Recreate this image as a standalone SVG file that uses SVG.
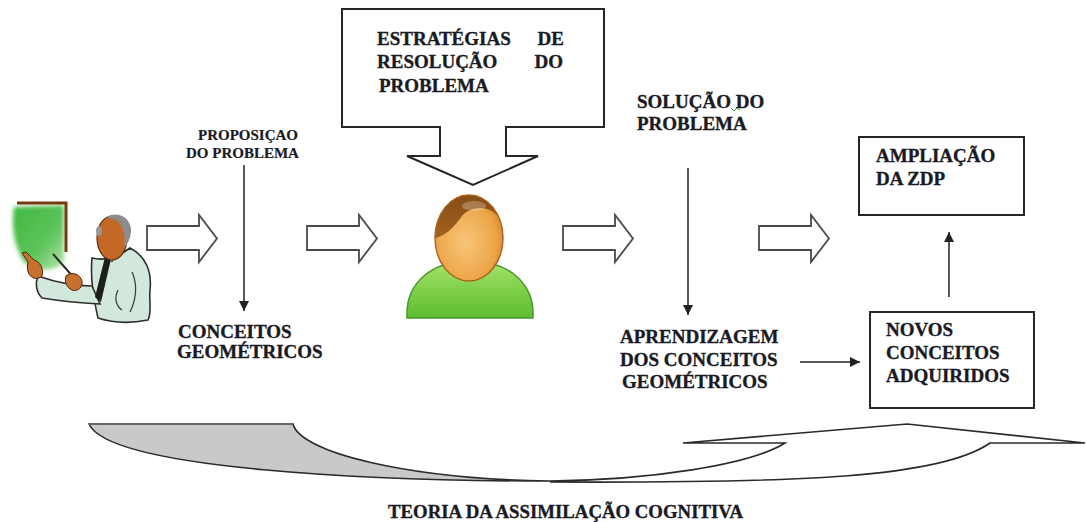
<svg xmlns="http://www.w3.org/2000/svg" width="1086" height="522" viewBox="0 0 1086 522">
  <style>
    .lbl { font-family: "Liberation Serif", "Times New Roman", serif; font-weight: bold; font-size: 19px; fill: #1a1a24; stroke: #1a1a24; stroke-width: 0.35; }
    .small { font-size: 15px; stroke-width: 0.2; }
    .box { fill: #ffffff; stroke: #262626; stroke-width: 2; }
    .block { fill: #ffffff; stroke: #4a4a4a; stroke-width: 1.8; stroke-linejoin: miter; }
    .conn { stroke: #222222; stroke-width: 1.5; fill: none; }
    .swirl { stroke: #2a2a2a; stroke-width: 1.6; }
  </style>
  <defs>
    <marker id="tri" viewBox="0 0 10 10" refX="10" refY="5" markerWidth="10" markerHeight="10" markerUnits="userSpaceOnUse" orient="auto">
      <path d="M0,0 L10,5 L0,10 Z" fill="#222222"/>
    </marker>
    <path id="blockArrow" d="M0,11 H52 V0 L70,23.5 L52,47 V35 H0 Z"/>
    <radialGradient id="face" cx="0.45" cy="0.55" r="0.6">
      <stop offset="0" stop-color="#f9c67a"/>
      <stop offset="0.75" stop-color="#eca548"/>
      <stop offset="1" stop-color="#d8862c"/>
    </radialGradient>
    <linearGradient id="torso" x1="0" y1="0" x2="0" y2="1">
      <stop offset="0" stop-color="#a6e46c"/>
      <stop offset="0.5" stop-color="#7fd04a"/>
      <stop offset="1" stop-color="#5cbc2e"/>
    </linearGradient>
    <linearGradient id="hair" x1="0" y1="0" x2="0" y2="1">
      <stop offset="0" stop-color="#7a4414"/>
      <stop offset="1" stop-color="#a8641f"/>
    </linearGradient>
    <linearGradient id="board" x1="0" y1="0" x2="1" y2="1">
      <stop offset="0" stop-color="#3fb83f"/>
      <stop offset="0.6" stop-color="#5cc45a"/>
      <stop offset="1" stop-color="#b6e6b0"/>
    </linearGradient>
    <clipPath id="headClip">
      <ellipse cx="469" cy="238" rx="34" ry="43"/>
    </clipPath>
    <filter id="soft" x="-20%" y="-20%" width="140%" height="140%">
      <feGaussianBlur stdDeviation="2.2"/>
    </filter>
  </defs>

  <rect width="1086" height="522" fill="#ffffff"/>

  <!-- teacher at the board -->
  <g id="teacher">
    <path d="M14,207 L64,205 L64,262 C55,272 38,272 24,262 C14,246 11,226 14,207 Z" fill="url(#board)" filter="url(#soft)"/>
    <path d="M17,203 H66 V252" fill="none" stroke="#7a3a10" stroke-width="3"/>
    <!-- jacket -->
    <path d="M92,258 C108,262 122,254 130,248 C146,256 152,272 150,290 C149,302 152,312 148,320 C128,324 110,322 98,318 C94,300 90,280 92,258 Z" fill="#d3e8dc" stroke="#2e2e2e" stroke-width="1.6"/>
    <path d="M132,272 C138,285 136,300 130,312" fill="none" stroke="#3a3a3a" stroke-width="1.2"/>
    <path d="M118,290 C114,298 116,306 122,310" fill="none" stroke="#3a3a3a" stroke-width="1.2"/>
    <!-- sleeve of raised arm -->
    <path d="M38,276 C55,282 72,286 92,286 L100,304 C80,303 60,301 42,298 C36,292 35,283 38,276 Z" fill="#d3e8dc" stroke="#2e2e2e" stroke-width="1.6"/>
    <!-- pointing hand -->
    <path d="M28,262 L22,253 L26,252 L34,260 C40,262 44,268 42,276 C38,280 32,279 29,274 C27,270 27,266 28,262 Z" fill="#c8702e" stroke="#4a2a10" stroke-width="1"/>
    <!-- pointer -->
    <line x1="53" y1="254" x2="75" y2="279" stroke="#2a2a2a" stroke-width="2"/>
    <!-- hand holding pointer -->
    <path d="M66,276 C72,271 80,274 82,281 C83,287 78,292 72,290 C67,288 64,282 66,276 Z" fill="#c8702e" stroke="#4a2a10" stroke-width="1"/>
    <!-- collar and tie -->
    <path d="M100,252 L112,262 L118,250 Z" fill="#ffffff" stroke="#2e2e2e" stroke-width="1"/>
    <path d="M105,257 L111,259 L101,302 L95,297 Z" fill="#1e1e1e"/>
    <!-- head -->
    <ellipse cx="112" cy="238" rx="15" ry="22" fill="#c46828" stroke="#5a3010" stroke-width="1.2"/>
    <path d="M106,217 C118,210 132,218 131,232 C130,240 127,245 124,248 C126,238 124,226 116,220 Z" fill="#8c8c8c"/>
    <ellipse cx="99" cy="231" rx="3" ry="5" fill="#9a9a9a"/>
  </g>

  <!-- hollow block arrows -->
  <g id="blockArrows">
    <use href="#blockArrow" class="block" transform="translate(147,215)"/>
    <use href="#blockArrow" class="block" transform="translate(307,215)"/>
    <use href="#blockArrow" class="block" transform="translate(563,215)"/>
    <use href="#blockArrow" class="block" transform="translate(759,215)"/>
  </g>

  <!-- callout box with downward arrow -->
  <g id="estrategias">
    <path d="M342,9 H604 V127 H506 V156 H538 L473,185 L407,156 H440 V127 H342 Z" class="box"/>
    <text class="lbl" x="377" y="45">ESTRATÉGIAS</text>
    <text class="lbl" x="564" y="45" text-anchor="end">DE</text>
    <text class="lbl" x="377" y="68">RESOLUÇÃO</text>
    <text class="lbl" x="563" y="68" text-anchor="end">DO</text>
    <text class="lbl" x="379" y="92">PROBLEMA</text>
  </g>

  <!-- student icon -->
  <g id="student">
    <path d="M407,318 C405,282 433,261 470,261 C507,261 535,282 533,318 Z" fill="url(#torso)" stroke="#47982a" stroke-width="1.5"/>
    <ellipse cx="469" cy="238" rx="34" ry="43" fill="url(#face)"/>
    <path d="M428,240 C445,238 455,226 462,216 C470,206 488,206 496,214 C502,220 505,228 506,232 L512,180 L428,180 Z" fill="url(#hair)" clip-path="url(#headClip)"/>
    <ellipse cx="474" cy="206" rx="12" ry="5" fill="#ffffff" opacity="0.25"/>
    <ellipse cx="469" cy="238" rx="34" ry="43" fill="none" stroke="#a8621c" stroke-width="1.5"/>
  </g>

  <g id="proposicao">
    <text class="lbl small" x="198" y="140">PROPOSIÇAO</text>
    <text class="lbl small" x="186" y="158">DO PROBLEMA</text>
  </g>

  <g id="conceitos">
    <text class="lbl" x="178" y="338">CONCEITOS</text>
    <text class="lbl" x="177" y="358">GEOMÉTRICOS</text>
  </g>

  <g id="solucao">
    <text class="lbl" x="637" y="108">SOLUÇÃO DO</text>
    <path d="M731,108 L734,111 L737,108 L740,110" fill="none" stroke="#3aa63a" stroke-width="1"/>
    <text class="lbl" x="637" y="130">PROBLEMA</text>
  </g>

  <g id="aprendizagem">
    <text class="lbl" x="620" y="343">APRENDIZAGEM</text>
    <text class="lbl" x="620" y="366">DOS CONCEITOS</text>
    <text class="lbl" x="622" y="388">GEOMÉTRICOS</text>
  </g>

  <g id="ampliacao">
    <rect x="859" y="137" width="165" height="78" class="box"/>
    <text class="lbl" x="876" y="162">AMPLIAÇÃO</text>
    <text class="lbl" x="876" y="185">DA ZDP</text>
  </g>

  <g id="novos">
    <rect x="870" y="312" width="164" height="96" class="box"/>
    <text class="lbl" x="886" y="336">NOVOS</text>
    <text class="lbl" x="886" y="359">CONCEITOS</text>
    <text class="lbl" x="886" y="382">ADQUIRIDOS</text>
  </g>

  <!-- connectors -->
  <g id="connectors">
    <line x1="244" y1="165" x2="244" y2="311" class="conn" marker-end="url(#tri)"/>
    <line x1="688" y1="168" x2="688" y2="315" class="conn" marker-end="url(#tri)"/>
    <line x1="800" y1="362" x2="860" y2="362" class="conn" marker-end="url(#tri)"/>
    <line x1="949" y1="297" x2="949" y2="232" class="conn" marker-end="url(#tri)"/>
  </g>

  <!-- curved assimilation arrow -->
  <g id="assimilacao">
    <path d="M550,481 C650,480 750,465 785,443 L683,443 L907,424 L1085,443 L990,443 C940,478 800,483 550,482" class="swirl" fill="#ffffff"/>
    <path d="M89,424 L293,424 C300,452 405,479 550,481 C380,481 110,470 89,424 Z" class="swirl" fill="#c9c9c9"/>
    <line x1="89" y1="424" x2="293" y2="424" stroke="#666666" stroke-width="2.2"/>
    <text class="lbl" x="388" y="518" textLength="355" lengthAdjust="spacingAndGlyphs">TEORIA DA ASSIMILAÇÃO COGNITIVA</text>
  </g>
</svg>
